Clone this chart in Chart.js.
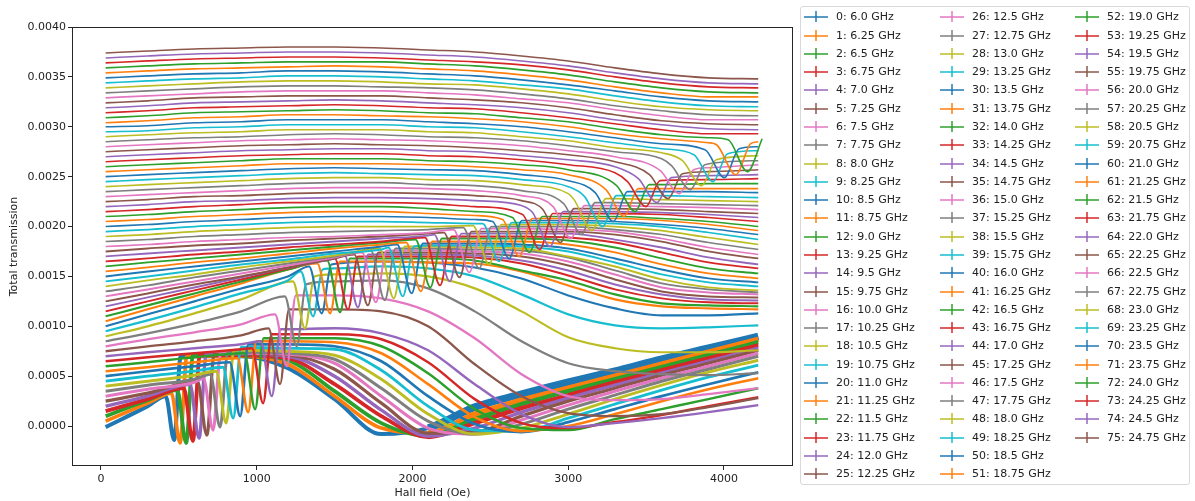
<!DOCTYPE html>
<html>
<head>
<meta charset="utf-8">
<title>Total transmission vs Hall field</title>
<script src="https://cdn.jsdelivr.net/npm/chart.js@4.4.1/dist/chart.umd.min.js"></script>
<style>
    html, body { margin: 0; padding: 0; background: #fff; }
    #wrap { position: relative; width: 1195px; height: 501px; overflow: hidden; }
    #chart { position: absolute; left: 0; top: 0; }
    #legendBox { position: absolute; left: 800px; top: 6px; width: 390px; height: 479px; box-sizing: border-box;
        border: 1px solid #d9d9d9; border-radius: 3px; background: rgba(255,255,255,0.8); }
    .lg-item { position: absolute; height: 18px; line-height: 18px; white-space: nowrap;
        font-family: "DejaVu Sans", sans-serif; font-size: 11px; color: #222; }
    .lg-h { position: absolute; width: 24px; height: 2px; top: 8px; left: 0; opacity: 0.75; }
    .lg-v { position: absolute; width: 2px; height: 11px; top: 3px; left: 11px; opacity: 0.75; }
    .lg-t { position: absolute; left: 32px; top: 0; }
</style>
</head>
<body>
<div id="wrap">
    <canvas id="chart" width="1195" height="501"></canvas>
    <div id="legendBox"></div>
</div>
<script>
    "use strict";

    // Frequencies (GHz), one curve each
    var freqs = [6.0, 6.25, 6.5, 6.75, 7.0, 7.25, 7.5, 7.75, 8.0, 8.25, 8.5, 8.75, 9.0, 9.25, 9.5, 9.75,
        10.0, 10.25, 10.5, 10.75, 11.0, 11.25, 11.5, 11.75, 12.0, 12.25, 12.5, 12.75, 13.0, 13.25, 13.5, 13.75,
        14.0, 14.25, 14.5, 14.75, 15.0, 15.25, 15.5, 15.75, 16.0, 16.25, 16.5, 16.75, 17.0, 17.25, 17.5, 17.75,
        18.0, 18.25, 18.5, 18.75, 19.0, 19.25, 19.5, 19.75, 20.0, 20.25, 20.5, 20.75, 21.0, 21.25, 21.5, 21.75,
        22.0, 22.25, 22.5, 22.75, 23.0, 23.25, 23.5, 23.75, 24.0, 24.25, 24.5, 24.75];

    // Hall field samples (Oe) for the smooth part of each curve
    var fields = [30, 300, 600, 900, 1200, 1500, 1800, 2100, 2400, 2700, 3000, 3300, 3600, 3900, 4220];
    var fieldTicks = [0, 1000, 2000, 3000, 4000];

    // Total transmission read at those fields (null = inside the resonance)
    var transmission = [
        [-0.00001, 0.00020, 0.00070, 0.00070, 0.00058, 0.00027, -0.00008, -0.00002, 0.00019, 0.00032, 0.00044, 0.00055, 0.00067, 0.00078, 0.00090],
        [0.00005, 0.00023, 0.00070, 0.00070, 0.00062, 0.00030, -0.00002, -0.00007, 0.00012, 0.00026, 0.00038, 0.00050, 0.00062, 0.00074, 0.00087],
        [0.00010, 0.00026, null, 0.00071, 0.00066, 0.00035, 0.00003, -0.00010, 0.00007, 0.00022, 0.00035, 0.00047, 0.00059, 0.00071, 0.00084],
        [0.00015, 0.00027, null, 0.00071, 0.00068, 0.00042, 0.00010, -0.00011, 0.00003, 0.00018, 0.00031, 0.00044, 0.00056, 0.00068, 0.00081],
        [0.00020, 0.00030, null, 0.00072, 0.00070, 0.00050, 0.00016, -0.00010, -0.00002, 0.00014, 0.00028, 0.00041, 0.00053, 0.00065, 0.00078],
        [0.00025, 0.00033, null, 0.00072, 0.00071, 0.00057, 0.00023, -0.00007, -0.00006, 0.00010, 0.00025, 0.00038, 0.00051, 0.00063, 0.00076],
        [0.00030, 0.00037, 0.00044, 0.00073, 0.00072, 0.00063, 0.00030, -0.00002, -0.00008, 0.00006, 0.00021, 0.00035, 0.00048, 0.00060, 0.00073],
        [0.00035, 0.00041, 0.00047, 0.00074, 0.00073, 0.00067, 0.00038, 0.00005, -0.00008, 0.00002, 0.00017, 0.00031, 0.00045, 0.00057, 0.00070],
        [0.00040, 0.00045, 0.00051, 0.00076, 0.00075, 0.00071, 0.00047, 0.00012, -0.00008, -0.00002, 0.00012, 0.00027, 0.00041, 0.00054, 0.00066],
        [0.00045, 0.00050, 0.00055, null, 0.00078, 0.00077, 0.00056, 0.00020, -0.00004, -0.00005, 0.00008, 0.00022, 0.00036, 0.00049, 0.00061],
        [0.00050, 0.00055, 0.00060, null, 0.00082, 0.00080, 0.00065, 0.00030, 0.00002, -0.00006, 0.00004, 0.00017, 0.00030, 0.00042, 0.00054],
        [0.00055, 0.00059, 0.00064, null, 0.00085, 0.00084, 0.00073, 0.00042, 0.00009, -0.00005, 0.00000, 0.00012, 0.00025, 0.00037, 0.00048],
        [0.00060, 0.00064, 0.00069, null, 0.00088, 0.00088, 0.00080, 0.00053, 0.00017, -0.00002, -0.00004, 0.00007, 0.00017, 0.00027, 0.00038],
        [0.00065, 0.00069, 0.00073, 0.00077, 0.00092, 0.00092, 0.00087, 0.00064, 0.00027, 0.00003, -0.00002, 0.00004, 0.00011, 0.00020, 0.00029],
        [0.00070, 0.00074, 0.00078, 0.00082, 0.00097, 0.00098, 0.00093, 0.00076, 0.00042, 0.00012, -0.00001, 0.00003, 0.00008, 0.00014, 0.00021],
        [0.00075, 0.00080, 0.00085, 0.00091, null, 0.00117, 0.00115, 0.00100, 0.00062, 0.00030, 0.00013, 0.00010, 0.00012, 0.00019, 0.00028],
        [0.00080, 0.00087, 0.00094, 0.00102, null, 0.00131, 0.00128, 0.00115, 0.00088, 0.00052, 0.00030, 0.00026, 0.00027, 0.00032, 0.00038],
        [0.00085, 0.00093, 0.00103, 0.00115, null, 0.00145, 0.00146, 0.00138, 0.00115, 0.00085, 0.00063, 0.00055, 0.00052, 0.00051, 0.00053],
        [0.00090, 0.00100, 0.00113, 0.00127, null, 0.00152, 0.00153, 0.00150, 0.00138, 0.00115, 0.00089, 0.00078, 0.00074, 0.00074, 0.00076],
        [0.00095, 0.00106, 0.00119, 0.00133, 0.00146, 0.00158, 0.00160, 0.00158, 0.00150, 0.00132, 0.00112, 0.00101, 0.00098, 0.00099, 0.00101],
        [0.00100, 0.00112, 0.00125, 0.00138, 0.00150, null, 0.00165, 0.00164, 0.00159, 0.00148, 0.00131, 0.00118, 0.00111, 0.00111, 0.00113],
        [0.00105, 0.00117, 0.00130, 0.00143, 0.00157, null, 0.00165, 0.00164, 0.00163, 0.00155, 0.00141, 0.00127, 0.00120, 0.00118, 0.00117],
        [0.00110, 0.00121, 0.00133, 0.00145, 0.00157, null, 0.00168, 0.00168, 0.00166, 0.00156, 0.00146, 0.00132, 0.00123, 0.00121, 0.00120],
        [0.00115, 0.00125, 0.00136, 0.00147, 0.00158, null, 0.00170, 0.00170, 0.00169, 0.00163, 0.00151, 0.00137, 0.00128, 0.00124, 0.00123],
        [0.00120, 0.00129, 0.00139, 0.00149, 0.00159, 0.00168, 0.00172, 0.00172, 0.00171, 0.00166, 0.00156, 0.00142, 0.00132, 0.00127, 0.00126],
        [0.00125, 0.00133, 0.00142, 0.00150, 0.00159, 0.00168, null, 0.00174, 0.00173, 0.00170, 0.00161, 0.00147, 0.00135, 0.00130, 0.00129],
        [0.00130, 0.00137, 0.00145, 0.00153, 0.00161, 0.00169, null, 0.00176, 0.00175, 0.00173, 0.00165, 0.00152, 0.00139, 0.00134, 0.00132],
        [0.00135, 0.00141, 0.00149, 0.00156, 0.00163, 0.00170, null, 0.00178, 0.00177, 0.00176, 0.00169, 0.00156, 0.00143, 0.00137, 0.00134],
        [0.00140, 0.00146, 0.00152, 0.00159, 0.00165, 0.00171, null, 0.00180, 0.00179, 0.00178, 0.00170, 0.00160, 0.00147, 0.00139, 0.00136],
        [0.00145, 0.00150, 0.00156, 0.00162, 0.00167, 0.00173, 0.00177, 0.00181, 0.00181, 0.00180, 0.00175, 0.00164, 0.00152, 0.00144, 0.00140],
        [0.00150, 0.00155, 0.00160, 0.00165, 0.00170, 0.00175, 0.00180, null, 0.00183, 0.00182, 0.00178, 0.00168, 0.00157, 0.00148, 0.00144],
        [0.00155, 0.00159, 0.00164, 0.00168, 0.00173, 0.00178, 0.00182, null, 0.00185, 0.00185, 0.00182, 0.00174, 0.00162, 0.00153, 0.00148],
        [0.00160, 0.00164, 0.00168, 0.00172, 0.00176, 0.00180, 0.00184, null, 0.00188, 0.00188, 0.00186, 0.00179, 0.00168, 0.00158, 0.00153],
        [0.00165, 0.00168, 0.00172, 0.00175, 0.00179, 0.00182, 0.00185, null, 0.00190, 0.00190, 0.00189, 0.00184, 0.00174, 0.00164, 0.00158],
        [0.00170, 0.00173, 0.00176, 0.00179, 0.00182, 0.00185, 0.00188, 0.00191, 0.00193, 0.00193, 0.00193, 0.00187, 0.00179, 0.00169, 0.00162],
        [0.00175, 0.00178, 0.00181, 0.00183, 0.00186, 0.00188, 0.00190, 0.00193, null, 0.00195, 0.00195, 0.00192, 0.00185, 0.00175, 0.00168],
        [0.00180, 0.00182, 0.00185, 0.00187, 0.00189, 0.00190, 0.00192, 0.00194, null, 0.00198, 0.00197, 0.00195, 0.00188, 0.00179, 0.00172],
        [0.00185, 0.00187, 0.00190, 0.00192, 0.00194, 0.00195, 0.00196, 0.00197, null, 0.00200, 0.00200, 0.00197, 0.00192, 0.00184, 0.00177],
        [0.00190, 0.00192, 0.00195, 0.00197, 0.00199, 0.00200, 0.00200, 0.00200, null, 0.00202, 0.00202, 0.00200, 0.00196, 0.00189, 0.00182],
        [0.00195, 0.00197, 0.00200, 0.00202, 0.00204, 0.00205, 0.00205, 0.00204, 0.00203, 0.00204, 0.00204, 0.00203, 0.00200, 0.00194, 0.00187],
        [0.00200, 0.00202, 0.00205, 0.00207, 0.00209, 0.00210, 0.00210, 0.00209, 0.00207, null, 0.00206, 0.00205, 0.00202, 0.00198, 0.00192],
        [0.00205, 0.00207, 0.00210, 0.00212, 0.00214, 0.00215, 0.00215, 0.00213, 0.00211, null, 0.00208, 0.00208, 0.00206, 0.00202, 0.00196],
        [0.00210, 0.00212, 0.00215, 0.00217, 0.00219, 0.00220, 0.00220, 0.00218, 0.00215, null, 0.00210, 0.00210, 0.00208, 0.00205, 0.00200],
        [0.00215, 0.00217, 0.00220, 0.00222, 0.00224, 0.00224, 0.00224, 0.00223, 0.00220, null, 0.00213, 0.00213, 0.00212, 0.00209, 0.00205],
        [0.00220, 0.00222, 0.00225, 0.00226, 0.00228, 0.00229, 0.00229, 0.00228, 0.00226, 0.00221, null, 0.00215, 0.00214, 0.00212, 0.00209],
        [0.00225, 0.00227, 0.00230, 0.00231, 0.00233, 0.00234, 0.00234, 0.00233, 0.00231, 0.00226, null, 0.00218, 0.00217, 0.00215, 0.00213],
        [0.00230, 0.00232, 0.00234, 0.00236, 0.00238, 0.00239, 0.00239, 0.00238, 0.00236, 0.00231, null, 0.00221, 0.00220, 0.00219, 0.00217],
        [0.00235, 0.00237, 0.00239, 0.00241, 0.00243, 0.00244, 0.00244, 0.00242, 0.00241, 0.00236, null, 0.00224, 0.00223, 0.00222, 0.00221],
        [0.00240, 0.00242, 0.00244, 0.00246, 0.00248, 0.00249, 0.00249, 0.00247, 0.00246, 0.00242, 0.00233, 0.00228, 0.00227, 0.00226, 0.00225],
        [0.00245, 0.00247, 0.00249, 0.00251, 0.00253, 0.00254, 0.00253, 0.00252, 0.00251, 0.00247, 0.00240, null, 0.00231, 0.00230, 0.00229],
        [0.00250, 0.00252, 0.00254, 0.00256, 0.00258, 0.00259, 0.00258, 0.00257, 0.00256, 0.00252, 0.00246, null, 0.00235, 0.00235, 0.00234],
        [0.00255, 0.00257, 0.00259, 0.00261, 0.00263, 0.00263, 0.00263, 0.00262, 0.00260, 0.00257, 0.00252, null, 0.00238, 0.00238, 0.00238],
        [0.00260, 0.00262, 0.00264, 0.00266, 0.00268, 0.00268, 0.00268, 0.00266, 0.00265, 0.00262, 0.00257, null, 0.00242, 0.00243, 0.00243],
        [0.00265, 0.00267, 0.00269, 0.00271, 0.00272, 0.00273, 0.00273, 0.00271, 0.00270, 0.00267, 0.00262, 0.00254, null, 0.00247, 0.00248],
        [0.00270, 0.00272, 0.00274, 0.00276, 0.00277, 0.00278, 0.00278, 0.00276, 0.00275, 0.00271, 0.00267, 0.00260, null, 0.00251, 0.00252],
        [0.00275, 0.00277, 0.00279, 0.00281, 0.00282, 0.00283, 0.00282, 0.00281, 0.00279, 0.00276, 0.00272, 0.00265, null, 0.00255, 0.00257],
        [0.00280, 0.00282, 0.00284, 0.00286, 0.00287, 0.00288, 0.00287, 0.00286, 0.00284, 0.00281, 0.00276, 0.00270, null, 0.00259, 0.00262],
        [0.00285, 0.00287, 0.00289, 0.00290, 0.00292, 0.00293, 0.00292, 0.00290, 0.00289, 0.00286, 0.00281, 0.00275, 0.00268, null, 0.00266],
        [0.00290, 0.00292, 0.00294, 0.00295, 0.00297, 0.00297, 0.00297, 0.00295, 0.00294, 0.00290, 0.00286, 0.00279, 0.00274, null, 0.00271],
        [0.00295, 0.00296, 0.00299, 0.00300, 0.00302, 0.00302, 0.00302, 0.00300, 0.00299, 0.00295, 0.00290, 0.00284, 0.00278, null, 0.00276],
        [0.00300, 0.00301, 0.00304, 0.00305, 0.00307, 0.00307, 0.00307, 0.00305, 0.00303, 0.00300, 0.00295, 0.00289, 0.00283, null, 0.00280],
        [0.00304, 0.00306, 0.00309, 0.00310, 0.00312, 0.00312, 0.00311, 0.00310, 0.00308, 0.00305, 0.00300, 0.00293, 0.00288, 0.00284, 0.00285],
        [0.00309, 0.00311, 0.00314, 0.00315, 0.00316, 0.00317, 0.00316, 0.00314, 0.00313, 0.00309, 0.00305, 0.00298, 0.00292, 0.00289, null],
        [0.00314, 0.00316, 0.00319, 0.00320, 0.00321, 0.00322, 0.00321, 0.00319, 0.00318, 0.00314, 0.00309, 0.00303, 0.00297, 0.00293, 0.00293],
        [0.00319, 0.00321, 0.00324, 0.00325, 0.00326, 0.00327, 0.00326, 0.00324, 0.00322, 0.00319, 0.00314, 0.00307, 0.00302, 0.00298, 0.00297],
        [0.00324, 0.00326, 0.00329, 0.00330, 0.00331, 0.00331, 0.00331, 0.00329, 0.00327, 0.00324, 0.00319, 0.00312, 0.00306, 0.00303, 0.00302],
        [0.00329, 0.00331, 0.00333, 0.00335, 0.00336, 0.00336, 0.00336, 0.00334, 0.00332, 0.00328, 0.00324, 0.00317, 0.00311, 0.00307, 0.00307],
        [0.00334, 0.00336, 0.00338, 0.00340, 0.00341, 0.00341, 0.00340, 0.00339, 0.00337, 0.00333, 0.00328, 0.00321, 0.00316, 0.00312, 0.00311],
        [0.00339, 0.00341, 0.00343, 0.00345, 0.00346, 0.00346, 0.00345, 0.00343, 0.00342, 0.00338, 0.00333, 0.00326, 0.00320, 0.00317, 0.00316],
        [0.00344, 0.00346, 0.00348, 0.00349, 0.00351, 0.00351, 0.00350, 0.00348, 0.00346, 0.00342, 0.00338, 0.00331, 0.00325, 0.00321, 0.00320],
        [0.00349, 0.00351, 0.00353, 0.00354, 0.00356, 0.00356, 0.00355, 0.00353, 0.00351, 0.00347, 0.00342, 0.00336, 0.00330, 0.00326, 0.00325],
        [0.00354, 0.00356, 0.00358, 0.00359, 0.00360, 0.00361, 0.00360, 0.00358, 0.00356, 0.00352, 0.00347, 0.00340, 0.00334, 0.00330, 0.00330],
        [0.00359, 0.00361, 0.00363, 0.00364, 0.00365, 0.00365, 0.00365, 0.00363, 0.00361, 0.00357, 0.00352, 0.00345, 0.00339, 0.00335, 0.00334],
        [0.00364, 0.00366, 0.00368, 0.00369, 0.00370, 0.00370, 0.00369, 0.00367, 0.00365, 0.00362, 0.00357, 0.00350, 0.00344, 0.00340, 0.00339],
        [0.00369, 0.00371, 0.00373, 0.00374, 0.00375, 0.00375, 0.00374, 0.00372, 0.00370, 0.00366, 0.00361, 0.00354, 0.00348, 0.00344, 0.00343],
        [0.00374, 0.00376, 0.00378, 0.00379, 0.00380, 0.00380, 0.00379, 0.00377, 0.00375, 0.00371, 0.00366, 0.00359, 0.00353, 0.00349, 0.00348]
    ];

    // Resonance of curves 0..62: field of the dip (Oe), half width (Oe),
    // level just before, at the bottom and just after the dip
    var resField = [470, 508, 547, 590, 630, 680, 720, 765, 804, 849, 894, 945, 990, 1041, 1097, 1150, 1193, 1257,
        1310, 1362, 1417, 1471, 1535, 1586, 1650, 1714, 1765, 1822, 1880, 1938, 1995, 2054, 2115, 2177, 2239, 2302,
        2365, 2428, 2492, 2556, 2621, 2686, 2751, 2817, 2883, 2950, 3017, 3085, 3153, 3221, 3290, 3359, 3429, 3499,
        3570, 3641, 3712, 3784, 3856, 3929, 4002, 4076, 4150];
    var resWidth = [42, 43, 44, 45, 46, 47, 48, 49, 50, 51, 52, 53, 54, 55, 56, 57, 58, 59, 60, 61, 62, 63, 64, 65,
        66, 67, 68, 69, 70, 71, 72, 73, 74, 75, 76, 77, 78, 79, 80, 81, 82, 83, 84, 85, 86, 87, 88, 88, 89, 89, 90,
        90, 91, 91, 92, 92, 93, 93, 94, 94, 95, 95, 95];
    var resPeak = [0.00030, 0.00033, 0.00036, 0.00038, 0.00042, 0.00045, 0.00048, 0.00052, 0.00055, 0.00059,
        0.00064, 0.00068, 0.00073, 0.00078, 0.00085, 0.00098, 0.00112, 0.00130, 0.00145, 0.00155,
        0.00160, 0.00163, 0.00166, 0.00168, 0.00171, 0.00172, 0.00174, 0.00176, 0.00178, 0.00179,
        0.00182, 0.00184, 0.00187, 0.00189, 0.00192, 0.00194, 0.00197, 0.00199, 0.00201, 0.00203,
        0.00205, 0.00207, 0.00209, 0.00212, 0.00214, 0.00217, 0.00220, 0.00223, 0.00227, 0.00230,
        0.00234, 0.00237, 0.00241, 0.00245, 0.00248, 0.00252, 0.00256, 0.00261, 0.00266, 0.00272,
        0.00277, 0.00282, 0.00287];
    var resDip = [-0.00014, -0.00017, -0.00017, -0.00015, -0.00012, -0.00009, -0.00004, -0.00001, 0.00003, 0.00008,
        0.00010, 0.00014, 0.00017, 0.00023, 0.00030, 0.00042, 0.00060, 0.00080, 0.00098, 0.00110,
        0.00113, 0.00113, 0.00114, 0.00117, 0.00119, 0.00121, 0.00124, 0.00126, 0.00128, 0.00130,
        0.00133, 0.00135, 0.00139, 0.00141, 0.00145, 0.00149, 0.00154, 0.00158, 0.00162, 0.00165,
        0.00168, 0.00170, 0.00174, 0.00177, 0.00180, 0.00184, 0.00188, 0.00192, 0.00196, 0.00200,
        0.00205, 0.00210, 0.00215, 0.00220, 0.00224, 0.00228, 0.00233, 0.00237, 0.00241, 0.00245,
        0.00249, 0.00252, 0.00255];
    var resPost = [0.00070, 0.00070, 0.00071, 0.00071, 0.00072, 0.00072, 0.00073, 0.00074, 0.00076, 0.00079,
        0.00082, 0.00085, 0.00088, 0.00092, 0.00097, 0.00117, 0.00131, 0.00142, 0.00150, 0.00157,
        0.00162, 0.00165, 0.00168, 0.00170, 0.00172, 0.00174, 0.00176, 0.00178, 0.00180, 0.00180,
        0.00183, 0.00185, 0.00188, 0.00190, 0.00193, 0.00195, 0.00198, 0.00200, 0.00202, 0.00204,
        0.00206, 0.00208, 0.00210, 0.00213, 0.00215, 0.00218, 0.00221, 0.00224, 0.00228, 0.00231,
        0.00235, 0.00238, 0.00242, 0.00246, 0.00249, 0.00253, 0.00257, 0.00262, 0.00267, 0.00273,
        0.00278, 0.00283, 0.00288];

    // Styles (noisier low-frequency curves look thicker, most of all at high field)
    var tab10 = ['#1f77b4', '#ff7f0e', '#2ca02c', '#d62728', '#9467bd', '#8c564b', '#e377c2', '#7f7f7f', '#bcbd22', '#17becf'];
    var lineWidths = [4, 3.6, 3.8, 3.8, 3.4, 3.2, 3.1, 3, 2.9, 2.8, 2.7, 2.6, 2.5, 2.5, 2.4, 2.3, 2.3, 2.2, 2.2, 2.2,
        2.1, 2.1, 2.1, 2, 2, 2, 2, 1.9, 1.9, 1.9, 1.9, 1.8, 1.8, 1.8, 1.8, 1.8, 1.7, 1.7, 1.7, 1.7];
    var highFieldWidths = [7.5, 5.5, 4.5, 4.2];
    var FONT = '"DejaVu Sans", sans-serif';

    function freqText(f) {
        return Number.isInteger(f) ? f.toFixed(1) : String(f);
    }

    function curvePoints(k) {
        var row = transmission[k];
        var pts = [];
        for (var i = 0; i < fields.length; i++) {
            if (row[i] !== null) pts.push({ x: fields[i], y: row[i] });
        }
        if (k < resField.length) {
            var r = resField[k], w = resWidth[k];
            pts.push({ x: r - 1.3 * w, y: resPeak[k] });
            pts.push({ x: r, y: resDip[k] });
            pts.push({ x: r + w, y: resPost[k] });
            pts.sort(function (a, b) { return a.x - b.x; });
        }
        return pts;
    }

    var datasets = freqs.map(function (f, k) {
        var base = k < lineWidths.length ? lineWidths[k] : 1.6;
        var ds = {
            label: k + ': ' + freqText(f) + ' GHz',
            data: curvePoints(k),
            borderColor: tab10[k % 10],
            backgroundColor: tab10[k % 10],
            borderWidth: base,
            pointRadius: 0,
            fill: false,
            cubicInterpolationMode: 'monotone',
            order: -k
        };
        if (k < highFieldWidths.length) {
            ds.segment = {
                borderWidth: function (c) { return c.p0.parsed.x >= 2000 ? highFieldWidths[k] : base; }
            };
        }
        return ds;
    });

    // Box around the plot, like the matplotlib spines
    var frame = {
        id: 'frame',
        afterDatasetsDraw: function (chart) {
            var a = chart.chartArea, ctx = chart.ctx;
            ctx.save();
            ctx.strokeStyle = '#262626';
            ctx.lineWidth = 1;
            ctx.strokeRect(Math.round(a.left) + 0.5, Math.round(a.top) + 0.5,
                Math.round(a.right - a.left) - 1, Math.round(a.bottom - a.top) - 1);
            ctx.restore();
        }
    };

    Chart.defaults.font.family = FONT;
    Chart.defaults.font.size = 11;
    Chart.defaults.color = '#222';

    var ctx = document.getElementById('chart').getContext('2d');
    var chart = new Chart(ctx, {
        type: 'line',
        data: { datasets: datasets },
        options: {
            responsive: false,
            animation: false,
            devicePixelRatio: 1,
            layout: { padding: { left: 0, top: 27, right: 402, bottom: 0 } },
            plugins: { legend: { display: false }, tooltip: { enabled: false } },
            scales: {
                x: {
                    type: 'linear',
                    min: -186,
                    max: 4443,
                    afterFit: function (s) { s.height = 35; },
                    afterBuildTicks: function (s) {
                        s.ticks = fieldTicks.map(function (v) { return { value: v }; });
                    },
                    border: { display: false },
                    grid: { drawOnChartArea: false, drawTicks: true, tickLength: 4, color: '#262626' },
                    ticks: {
                        padding: 3, maxRotation: 0, autoSkip: false,
                        callback: function (v) { return String(v); }
                    },
                    title: { display: true, text: 'Hall field (Oe)', padding: { top: 0, bottom: 1 } }
                },
                y: {
                    type: 'linear',
                    min: -0.0004,
                    max: 0.0040,
                    afterFit: function (s) { s.width = 72; },
                    border: { display: false },
                    grid: { drawOnChartArea: false, drawTicks: true, tickLength: 4, color: '#262626' },
                    ticks: {
                        stepSize: 0.0005, includeBounds: false, padding: 2,
                        callback: function (v) { return Number(v).toFixed(4); }
                    },
                    title: { display: true, text: 'Total transmission', padding: { top: 8, bottom: 0 } }
                }
            }
        },
        plugins: [frame]
    });

    // Legend: 3 columns filled top to bottom, errorbar style handles
    var wrap = document.getElementById('wrap');
    var perCol = 26;
    chart.data.datasets.forEach(function (ds, k) {
        var col = Math.floor(k / perCol), row = k % perCol;
        var item = document.createElement('div');
        item.className = 'lg-item';
        item.style.left = Math.round(804 + col * 135.5) + 'px';
        item.style.top = Math.round(17.3 + row * 18.28 - 9) + 'px';
        var h = document.createElement('span');
        h.className = 'lg-h';
        h.style.background = ds.borderColor;
        var v = document.createElement('span');
        v.className = 'lg-v';
        v.style.background = ds.borderColor;
        var t = document.createElement('span');
        t.className = 'lg-t';
        t.textContent = ds.label;
        item.appendChild(h);
        item.appendChild(v);
        item.appendChild(t);
        wrap.appendChild(item);
    });
</script>
</body>
</html>
